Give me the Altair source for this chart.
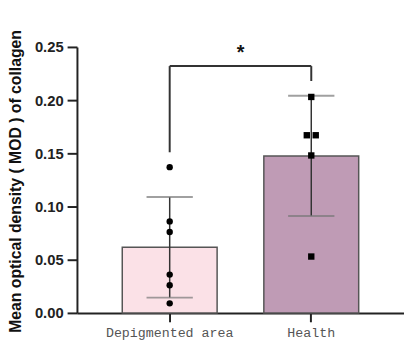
import altair as alt
import pandas as pd

groups = ["Depigmented area", "Health"]
depig_values = [0.137, 0.086, 0.076, 0.036, 0.026, 0.009]
health_values = [0.203, 0.167, 0.167, 0.148, 0.053]
bar_colors = ["#fbe1e7", "#bf9bb5"]
point_shapes = ["circle", "square"]
y_ticks = [0.0, 0.05, 0.10, 0.15, 0.20, 0.25]

# significance bracket (annotation)
bracket_top = 0.232
bracket_bottoms = [0.151, 0.218]
star_y = 0.247

rows = [{"group": groups[0], "value": v} for v in depig_values] + \
       [{"group": groups[1], "value": v} for v in health_values]
df = pd.DataFrame(rows)
# duplicated values are drawn side by side
df["k"] = df.groupby(["group", "value"]).cumcount()
df["n"] = df.groupby(["group", "value"])["value"].transform("count")
single = df[df["n"] == 1]
dup_left = df[(df["n"] > 1) & (df["k"] == 0)]
dup_right = df[(df["n"] > 1) & (df["k"] == 1)]

# symbol paths (unit space) for a square nudged left / right of its data point
square_left = "M-2.4,-1H-0.4V1H-2.4Z"
square_right = "M0.4,-1H2.4V1H0.4Z"

legs = pd.DataFrame({"group": groups, "bottom": bracket_bottoms, "top": [bracket_top] * 2})
hline = pd.DataFrame({"a": [groups[0]], "b": [groups[1]], "y": [bracket_top]})
star = pd.DataFrame({"group": [groups[0]], "y": [star_y], "t": ["*"]})

xscale = alt.Scale(domain=groups, paddingInner=0.33, paddingOuter=0.32)
yscale = alt.Scale(domain=[0, 0.25], nice=False, zero=True)

x_enc = alt.X("group:N", sort=groups, scale=xscale, title=None,
              axis=alt.Axis(labelAngle=0, labelFont="Liberation Mono", labelFontSize=13.5,
                            labelColor="#555", labelPadding=4, tickSize=9, tickWidth=2,
                            tickColor="#222", domainColor="#222", domainWidth=2))
y_enc = alt.Y("mean(value):Q", scale=yscale,
              title="Mean optical density ( MOD ) of collagen",
              axis=alt.Axis(values=y_ticks, format=".2f", grid=False, labelFont="Liberation Sans",
                            labelFontSize=15, labelFontWeight="bold", labelColor="#222",
                            labelPadding=4, tickSize=10, tickWidth=2, tickColor="#222",
                            domainColor="#222", domainWidth=2,
                            titleFont="Liberation Sans", titleFontSize=16, titleFontWeight="bold",
                            titleColor="#111", titleX=-57, titleY=136, titleAlign="center",
                            titleBaseline="alphabetic"))

base = alt.Chart(df)

bars = base.mark_bar(stroke="#555", strokeWidth=1.5).encode(
    x=x_enc, y=y_enc,
    color=alt.Color("group:N", scale=alt.Scale(domain=groups, range=bar_colors), legend=None))

stats = base.transform_aggregate(
    m="mean(value)", sd="stdev(value)", groupby=["group"]
).transform_calculate(lo="datum.m - datum.sd", hi="datum.m + datum.sd")

whisk = stats.mark_rule(color="#333", strokeWidth=1.5).encode(
    x=alt.X("group:N", sort=groups, scale=xscale),
    y=alt.Y("lo:Q", scale=yscale), y2="hi:Q")

caps = stats.transform_fold(["lo", "hi"], as_=["which", "yv"]).mark_tick(
    color="#777", thickness=2, size=47).encode(
    x=alt.X("group:N", sort=groups, scale=xscale),
    y=alt.Y("yv:Q", scale=yscale))

pt_single = alt.Chart(single).mark_point(filled=True, color="#000", opacity=1).encode(
    x=alt.X("group:N", sort=groups, scale=xscale),
    y=alt.Y("value:Q", scale=yscale),
    shape=alt.Shape("group:N", scale=alt.Scale(domain=groups, range=point_shapes), legend=None),
    size=alt.Size("group:N", scale=alt.Scale(domain=groups, range=[42, 42]), legend=None))


def dup_points(data, path):
    return alt.Chart(data).mark_point(filled=True, color="#000", opacity=1, shape=path,
                                      size=42).encode(
        x=alt.X("group:N", sort=groups, scale=xscale),
        y=alt.Y("value:Q", scale=yscale))


pts = [pt_single, dup_points(dup_left, square_left), dup_points(dup_right, square_right)]

leg_rules = alt.Chart(legs).mark_rule(color="#333", strokeWidth=2).encode(
    x=alt.X("group:N", sort=groups, scale=xscale),
    y=alt.Y("bottom:Q", scale=yscale), y2="top:Q")

h_rule = alt.Chart(hline).mark_rule(color="#333", strokeWidth=2).encode(
    x=alt.X("a:N", scale=xscale), x2="b:N",
    y=alt.Y("y:Q", scale=yscale))

star_txt = alt.Chart(star).mark_text(fontSize=20, fontWeight="bold", font="Liberation Sans",
                                     color="#111", dx=72, dy=3, baseline="middle").encode(
    x=alt.X("group:N", scale=xscale),
    y=alt.Y("y:Q", scale=yscale),
    text="t:N")

chart = alt.layer(bars, whisk, caps, *pts, leg_rules, h_rule, star_txt).properties(
    width=332, height=270, autosize="none",
    padding={"left": 70, "top": 37, "right": 0, "bottom": 28},
    background="white"
).configure_view(stroke=None)

chart.save("out.html", embed_options={"renderer": "svg", "actions": False})
